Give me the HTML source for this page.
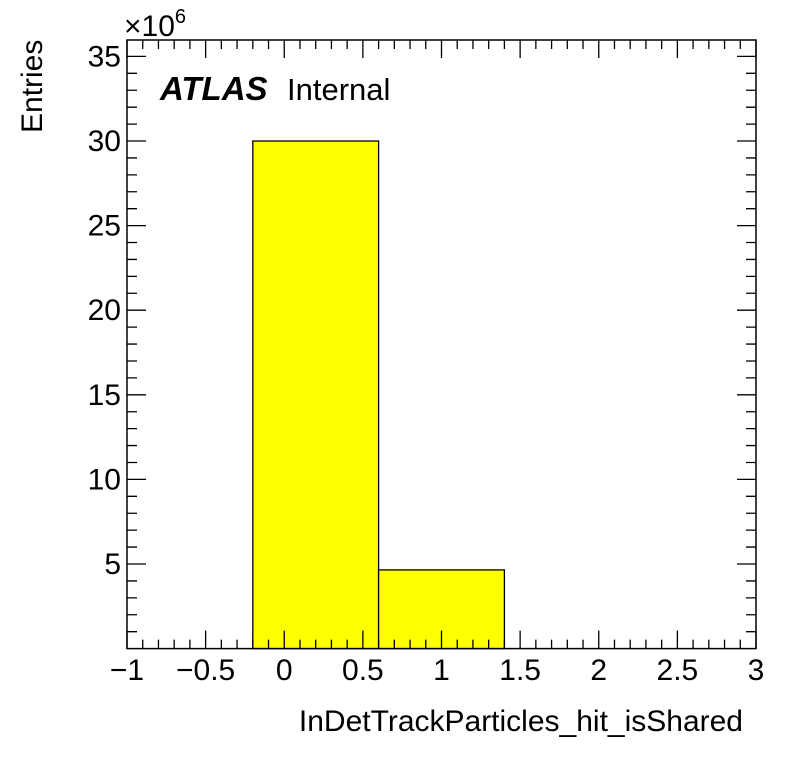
<!DOCTYPE html>
<html><head><meta charset="utf-8"><style>body{margin:0;background:#fff}svg{display:block}text{font-family:"Liberation Sans",Arial,sans-serif}</style></head>
<body>
<svg id="c" width="796" height="772"></svg>
<script>
const binEdges=[-0.2,0.6,1.4];
const binValues=[30.0,4.65];
const xTicks=[-1,-0.5,0,0.5,1,1.5,2,2.5,3];
const xTickLabels=["\u22121","\u22120.5","0","0.5","1","1.5","2","2.5","3"];
const yTicks=[5,10,15,20,25,30,35];
const yTickLabels=["5","10","15","20","25","30","35"];
const X0=127,X1=756,Y0=648.6,Y1=40,xmin=-1,xmax=3,ymin=0,ymax=35.97;
const sx=v=>X0+(v-xmin)/(xmax-xmin)*(X1-X0);
const sy=v=>Y0-(v-ymin)/(ymax-ymin)*(Y0-Y1);
const svg=document.getElementById('c');const NS='http://www.w3.org/2000/svg';
function mk(t,a,p){const e=document.createElementNS(NS,t);for(const k in a)e.setAttribute(k,a[k]);(p||svg).appendChild(e);return e;}
for(let i=0;i<binValues.length;i++){
 const r=mk('rect',{x:sx(binEdges[i]),y:sy(binValues[i]),width:sx(binEdges[i+1])-sx(binEdges[i]),height:Y0-sy(binValues[i]),fill:'#ffff00',stroke:'#000','stroke-width':1.3});
 
 
}
const fr=mk('rect',{x:X0,y:Y1,width:X1-X0,height:Y0-Y1,fill:'none',stroke:'#000','stroke-width':1.5});


let d='';
for(let k=0;k<=40;k++){const v=xmin+k*0.1;const x=sx(v);const L=(k%5===0)?18:9;d+=`M${x},${Y0}v${-L}M${x},${Y1}v${L}`;}
for(let k=1;k<=35;k++){const y=sy(k);const L=(k%5===0)?19:10;d+=`M${X0},${y}h${L}M${X1},${y}h${-L}`;}
const tk=mk('path',{d:d,stroke:'#000','stroke-width':1.3,fill:'none'});


xTicks.forEach((v,i)=>{const t=mk('text',{x:sx(v),y:680,'font-size':30,'text-anchor':'middle'});t.textContent=xTickLabels[i];
 
 });
yTicks.forEach((v,i)=>{const t=mk('text',{x:121,y:sy(v)+10,'font-size':30,'text-anchor':'end'});t.textContent=yTickLabels[i];
 
 });
</script>
<svg width="796" height="772" style="position:absolute;left:0;top:0">
<text x="124" y="36" font-size="30">×10<tspan font-size="20" dy="-13">6</tspan></text>
<text transform="translate(42,133) rotate(-90)" font-size="30">Entries</text>
<text x="743" y="731" font-size="30" text-anchor="end">InDetTrackParticles_hit_isShared</text>
<text x="160" y="100" font-size="33" font-weight="bold" font-style="italic">ATLAS</text>
<text x="287" y="100" font-size="31">Internal</text>
</svg>
</body></html>
